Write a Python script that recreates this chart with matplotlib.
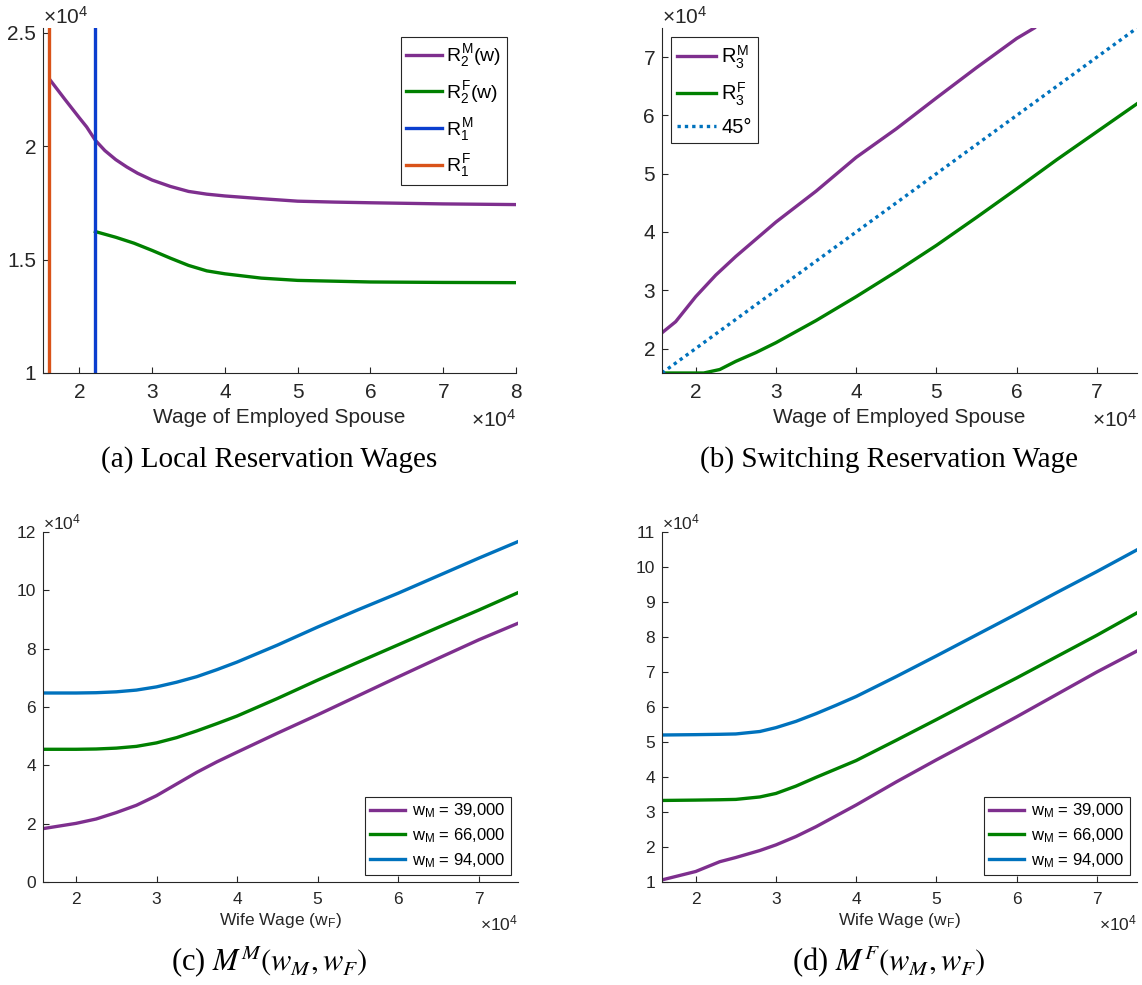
import numpy as np
import matplotlib
matplotlib.use("Agg")
import matplotlib.pyplot as plt
from matplotlib.ticker import FuncFormatter

plt.rcParams['font.family'] = ['Liberation Sans', 'DejaVu Sans']
plt.rcParams['mathtext.fontset'] = 'custom'
plt.rcParams['mathtext.rm'] = 'Liberation Sans'
plt.rcParams['mathtext.it'] = 'Liberation Sans'
plt.rcParams['mathtext.bf'] = 'Liberation Sans:bold'

PURPLE = '#7E2F8E'
GREEN = '#008000'
BLUE = '#0072BD'
DEEP_BLUE = '#0B3ECF'
ORANGE = '#D95319'
INK = '#262626'

# ---- (a) Local reservation wages ----
wage_a = [16000, 17000, 18000, 19000, 20000, 21000, 22200, 23500, 25000, 26500,
          28000, 30000, 32500, 35000, 37500, 40000, 45000, 50000, 55000, 60000,
          70000, 80000]
r2m = [22900, 22480, 22060, 21650, 21240, 20840, 20250, 19800, 19400, 19080,
       18800, 18500, 18220, 18000, 17880, 17800, 17680, 17570, 17530, 17500,
       17450, 17420]
wage_a_f = [22200, 25000, 27500, 30000, 32500, 35000, 37500, 40000, 45000, 50000,
            60000, 70000, 80000]
r2f = [16230, 15980, 15720, 15400, 15060, 14740, 14500, 14370, 14180, 14080,
       14010, 13990, 13980]
r1m = 22200
r1f = 15800

# ---- (b) Switching reservation wage ----
wage_b = [15800, 17500, 20000, 22500, 25000, 30000, 35000, 40000, 45000, 50000,
          55000, 60000, 62200]
r3m = [22700, 24600, 28900, 32600, 35800, 41700, 47000, 52800, 57700, 63000,
       68200, 73200, 75000]
wage_b_f = [15800, 18000, 21000, 23000, 25000, 27500, 30000, 35000, 40000, 45000,
            50000, 55000, 60000, 65000, 70000, 75000]
r3f = [15800, 15800, 15800, 16400, 17800, 19300, 21000, 24800, 28900, 33200,
       37700, 42500, 47400, 52400, 57200, 62000]
deg45 = [15800, 75000]

# ---- (c) M^M and (d) M^F ----
wife_wage = [15900, 20000, 22500, 25000, 27500, 30000, 32500, 35000, 37500, 40000,
             45000, 50000, 55000, 60000, 65000, 70000, 74900]
mm_39 = [18300, 20100, 21600, 23800, 26300, 29600, 33600, 37600, 41200, 44500,
         51000, 57300, 63800, 70300, 76700, 83000, 88700]
mm_66 = [45500, 45500, 45600, 45900, 46500, 47700, 49500, 51800, 54300, 56900,
         62900, 69200, 75300, 81300, 87300, 93200, 99200]
mm_94 = [64800, 64800, 64900, 65200, 65800, 66900, 68500, 70400, 72800, 75400,
         81200, 87400, 93300, 99000, 105000, 111000, 116700]

wife_wage_d = [15800, 20000, 23000, 25000, 28000, 30000, 32500, 35000, 37500, 40000,
               45000, 50000, 55000, 60000, 65000, 70000, 75000]
mf_39 = [10600, 13000, 15800, 17000, 19000, 20600, 23000, 25800, 28900, 32000,
         38600, 44900, 51000, 57200, 63600, 70000, 76000]
mf_66 = [33300, 33400, 33500, 33600, 34300, 35300, 37400, 39900, 42300, 44700,
         50500, 56400, 62400, 68300, 74400, 80500, 86900]
mf_94 = [52000, 52100, 52200, 52300, 53000, 54100, 55900, 58100, 60500, 63000,
         68700, 74600, 80600, 86600, 92700, 98700, 104900]
wm_labels = ['39,000', '66,000', '94,000']

W, H = 1142, 985
fig = plt.figure(figsize=(W / 100, H / 100), dpi=100)

def box(l, t, r, b):
    return [l / W, 1 - b / H, (r - l) / W, (b - t) / H]

sci = FuncFormatter(lambda v, p: f'{v / 1e4:g}')

def style(ax, fs, xlabel, label_y, exp_y):
    for s in ['top', 'right']:
        ax.spines[s].set_visible(False)
    for s in ['left', 'bottom']:
        ax.spines[s].set_color(INK)
        ax.spines[s].set_linewidth(0.8)
    ax.tick_params(direction='in', length=4, width=0.8, colors=INK,
                   labelsize=fs, labelcolor=INK)
    ax.tick_params(axis='x', pad=7)
    ax.tick_params(axis='y', pad=5)
    ax.xaxis.set_major_formatter(sci)
    ax.yaxis.set_major_formatter(sci)
    ax.set_xlabel(xlabel, fontsize=fs, color=INK, va='center')
    ax.xaxis.set_label_coords(0.5, label_y)
    ax.text(0.0, 1.0, r'$\times10^4$', transform=ax.transAxes, fontsize=fs,
            ha='left', va='bottom', color=INK)
    ax.text(1.0, exp_y, r'$\times10^4$', transform=ax.transAxes, fontsize=fs,
            ha='right', va='center', color=INK)

def legend(ax, loc, fs, hl, ls, htp):
    leg = ax.legend(loc=loc, fontsize=fs, fancybox=False, edgecolor=INK,
                    framealpha=1, handlelength=hl, labelspacing=ls,
                    handletextpad=htp, borderpad=0.3, borderaxespad=0.45)
    leg.get_frame().set_linewidth(0.8)

lw = 2.4

# (a)
ax = fig.add_axes(box(43, 28, 516, 373))
ax.plot(wage_a, r2m, color=PURPLE, lw=lw, label=r'$R_2^M(w)$')
ax.plot(wage_a_f, r2f, color=GREEN, lw=lw, label=r'$R_2^F(w)$')
ax.plot([r1m, r1m], [10000, 25200], color=DEEP_BLUE, lw=lw, label=r'$R_1^M$')
ax.plot([r1f, r1f], [10000, 25200], color=ORANGE, lw=lw, label=r'$R_1^F$')
ax.set_xlim(15000, 80000)
ax.set_ylim(10000, 25200)
ax.set_xticks([20000, 30000, 40000, 50000, 60000, 70000, 80000])
ax.set_yticks([10000, 15000, 20000, 25000])
style(ax, 15, 'Wage of Employed Spouse', -0.128, -0.136)
legend(ax, 'upper right', 14, 1.85, 0.5, 0.2)

# (b)
ax = fig.add_axes(box(662, 28, 1137, 373))
ax.plot(wage_b, r3m, color=PURPLE, lw=lw, label=r'$R_3^M$')
ax.plot(wage_b_f, r3f, color=GREEN, lw=lw, label=r'$R_3^F$')
ax.plot(deg45, deg45, color=BLUE, lw=lw, ls=(0, (1.0, 1.2)), label='45°')
ax.set_xlim(15800, 75000)
ax.set_ylim(15800, 75000)
ax.set_xticks([20000, 30000, 40000, 50000, 60000, 70000])
ax.set_yticks([20000, 30000, 40000, 50000, 60000, 70000])
style(ax, 15, 'Wage of Employed Spouse', -0.128, -0.136)
legend(ax, 'upper left', 14.5, 1.95, 0.5, 0.25)

# (c)
ax = fig.add_axes(box(43, 532, 518, 882))
for vals, col, lab in zip([mm_39, mm_66, mm_94], [PURPLE, GREEN, BLUE], wm_labels):
    ax.plot(wife_wage, vals, color=col, lw=lw, label=r'$w_M$ = ' + lab)
ax.set_xlim(15900, 74900)
ax.set_ylim(0, 120000)
ax.set_xticks([20000, 30000, 40000, 50000, 60000, 70000])
ax.set_yticks(np.arange(0, 120001, 20000))
style(ax, 12.5, r'Wife Wage ($w_F$)', -0.109, -0.117)
legend(ax, 'lower right', 12, 2.15, 0.35, 0.4)

# (d)
ax = fig.add_axes(box(662, 532, 1137, 882))
for vals, col, lab in zip([mf_39, mf_66, mf_94], [PURPLE, GREEN, BLUE], wm_labels):
    ax.plot(wife_wage_d, vals, color=col, lw=lw, label=r'$w_M$ = ' + lab)
ax.set_xlim(15800, 75000)
ax.set_ylim(10000, 110000)
ax.set_xticks([20000, 30000, 40000, 50000, 60000, 70000])
ax.set_yticks(np.arange(10000, 110001, 10000))
style(ax, 12.5, r'Wife Wage ($w_F$)', -0.109, -0.117)
legend(ax, 'lower right', 12, 2.15, 0.35, 0.4)

# captions
cap = dict(family='Liberation Serif', math_fontfamily='stix', ha='center', va='center')
fig.text(269 / W, 1 - 460 / H, '(a) Local Reservation Wages', fontsize=21, **cap)
fig.text(889 / W, 1 - 460 / H, '(b) Switching Reservation Wage', fontsize=21, **cap)
fig.text(269 / W, 1 - 962 / H, r'(c) $M^M(w_M,w_F)$', fontsize=22, **cap)
fig.text(889 / W, 1 - 962 / H, r'(d) $M^F(w_M,w_F)$', fontsize=22, **cap)

fig.savefig('out.png', dpi=100)
